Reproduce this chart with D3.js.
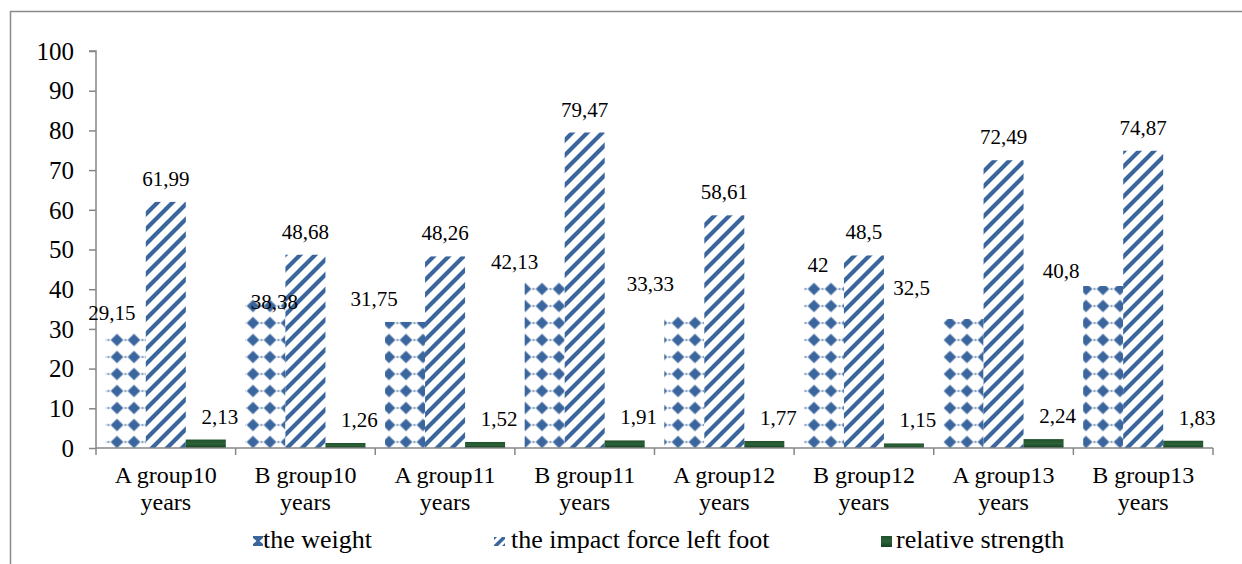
<!DOCTYPE html>
<html>
<head>
<meta charset="utf-8">
<script src="https://cdn.jsdelivr.net/npm/d3@7"></script>
</head>
<body style="margin:0">
<svg id="fig" width="1242" height="564"></svg>
<script>
// Category labels (two lines each)
const groups = ["A group10", "B group10", "A group11", "B group11",
                "A group12", "B group12", "A group13", "B group13"];
const groupSub = ["years", "years", "years", "years", "years", "years", "years", "years"];

// Series values
const weight   = [29.15, 38.38, 31.75, 42.13, 33.33, 42, 32.5, 40.8];
const impact   = [61.99, 48.68, 48.26, 79.47, 58.61, 48.5, 72.49, 74.87];
const strength = [2.13, 1.26, 1.52, 1.91, 1.77, 1.15, 2.24, 1.83];

const seriesNames = ["the weight", "the impact force left foot", "relative strength"];
const yTicks = [0, 10, 20, 30, 40, 50, 60, 70, 80, 90, 100];

// Hand-placed label offsets for the weight series (px, relative to bar centre / top)
const weightLabelDx = [-14, 9, -31, -30, -34, -6, -52, -42];
const weightLabelDy = [-12, 13, -16, -12, -25, -9, -24, -8];

// serif text helper
const serif = (sel, size) => sel
  .attr("font-family", "Liberation Serif").attr("font-size", size)
  .style("font-family", "'Liberation Serif', 'Times New Roman', serif", "important")
  .style("font-size", size + "px", "important");

const svg = d3.select("#fig");
const defs = svg.append("defs");
const blue = "#3a659d";

// dotted-diamond fill for "the weight"
const pw = defs.append("pattern")
  .attr("id", "pat-weight").attr("patternUnits", "userSpaceOnUse")
  .attr("width", 17).attr("height", 17).attr("x", 6.5).attr("y", 8.5);
pw.append("rect").attr("width", 17).attr("height", 17).attr("fill", "#fff");
pw.append("path").attr("d", "M8.5,2.2 L14.8,8.5 L8.5,14.8 L2.2,8.5 Z").attr("fill", blue);
pw.append("path").attr("d", "M0,7.5 L1.5,8.5 L0,9.5 Z M17,7.5 L15.5,8.5 L17,9.5 Z").attr("fill", blue);

// wide upward-diagonal stripes for the impact force
const pi = defs.append("pattern")
  .attr("id", "pat-impact").attr("patternUnits", "userSpaceOnUse")
  .attr("width", 15).attr("height", 15);
pi.append("rect").attr("width", 15).attr("height", 15).attr("fill", "#fff");
pi.append("path")
  .attr("d", "M-4,19 L19,-4 M-4,4 L4,-4 M11,19 L19,11")
  .attr("stroke", blue).attr("stroke-width", 4.2).attr("fill", "none");

// dark green fill for relative strength
const gg = defs.append("linearGradient").attr("id", "grad-strength")
  .attr("x1", 0).attr("y1", 0).attr("x2", 0).attr("y2", 1);
gg.append("stop").attr("offset", "0%").attr("stop-color", "#21502c");
gg.append("stop").attr("offset", "50%").attr("stop-color", "#2b6238");
gg.append("stop").attr("offset", "100%").attr("stop-color", "#173f20");

const fills = ["url(#pat-weight)", "url(#pat-impact)", "url(#grad-strength)"];
const series = [weight, impact, strength];

// outer frame
svg.append("rect")
  .attr("x", 10.5).attr("y", 11.5).attr("width", 1260).attr("height", 600)
  .attr("fill", "none").attr("stroke", "#8a8a8a").attr("stroke-width", 1.5);

const plot = { left: 96, right: 1213, top: 51, bottom: 448 };

const x0 = d3.scaleBand().domain(d3.range(groups.length))
  .range([plot.left, plot.right]).paddingInner(0).paddingOuter(0);
const x1 = d3.scaleBand().domain(d3.range(3))
  .range([0, x0.bandwidth()]).paddingInner(0).paddingOuter(0.245);
const y = d3.scaleLinear().domain([0, 100]).range([plot.bottom, plot.top]);

// bars
series.forEach((vals, s) => {
  svg.append("g").selectAll("rect").data(vals).join("rect")
    .attr("x", (d, i) => x0(i) + x1(s))
    .attr("y", d => y(d))
    .attr("width", x1.bandwidth())
    .attr("height", d => y(0) - y(d))
    .attr("fill", fills[s]);
});

// y axis: tick marks and line from the axis generator, labels as plain text
const yAxis = d3.axisLeft(y).tickValues(yTicks).tickSize(7).tickFormat("");
const gy = svg.append("g").attr("transform", `translate(${plot.left},0)`).call(yAxis);
gy.select(".domain").attr("stroke", "#868686").attr("stroke-width", 1.5)
  .attr("d", `M-7,${y(100)}H0V${y(0)}`);
gy.selectAll(".tick line").attr("stroke", "#868686").attr("stroke-width", 1.5);
serif(svg.append("g").selectAll("text").data(yTicks).join("text"), 25)
  .attr("x", 74).attr("y", d => y(d)).attr("dy", "0.35em")
  .attr("text-anchor", "end")
  .text(d => d);

// x axis
const gx = svg.append("g").attr("transform", `translate(0,${plot.bottom})`);
gx.append("path").attr("d", `M${plot.left},0H${plot.right}`)
  .attr("stroke", "#868686").attr("stroke-width", 1.5).attr("fill", "none");
gx.selectAll("line.tk").data(d3.range(groups.length + 1)).join("line")
  .attr("class", "tk")
  .attr("x1", i => i < groups.length ? x0(i) : plot.right)
  .attr("x2", i => i < groups.length ? x0(i) : plot.right)
  .attr("y1", 0).attr("y2", 7)
  .attr("stroke", "#868686").attr("stroke-width", 1.5);

serif(svg.append("g").selectAll("text").data(groups).join("text"), 24)
  .attr("x", (d, i) => x0(i) + x0.bandwidth() / 2).attr("y", plot.bottom + 35)
  .attr("text-anchor", "middle")
  .text(d => d);
serif(svg.append("g").selectAll("text").data(groupSub).join("text"), 24)
  .attr("x", (d, i) => x0(i) + x0.bandwidth() / 2).attr("y", plot.bottom + 62)
  .attr("text-anchor", "middle")
  .text(d => d);

// value labels
const fmt = v => String(v).replace(".", ",");
const labelDx = [weightLabelDx, impact.map(() => 0), strength.map(() => 14)];
const labelDy = [weightLabelDy, impact.map(() => -16), strength.map(() => -16)];
series.forEach((vals, s) => {
  serif(svg.append("g").selectAll("text").data(vals).join("text"), 21)
    .attr("x", (d, i) => x0(i) + x1(s) + x1.bandwidth() / 2 + labelDx[s][i])
    .attr("y", (d, i) => y(d) + labelDy[s][i])
    .attr("text-anchor", "middle")
    .text(fmt);
});

// legend
const legendX = [263, 511, 896];
const lg = svg.append("g");
// weight swatch: hourglass fragment of the diamond fill
lg.append("path")
  .attr("d", "M253,536 H263 V538 L259.5,541 L263,544 V546 H253 V544 L256.5,541 L253,538 Z")
  .attr("fill", blue);
// impact swatch: stripe fragments
lg.append("path").attr("d", "M494,545 L502,537 L505,537 L505,539 L498,546 L494,546 Z").attr("fill", blue);
lg.append("path").attr("d", "M494,537 L497,537 L494,540 Z M505,543 L505,546 L502,546 Z").attr("fill", blue);
// strength swatch
lg.append("rect").attr("x", 881).attr("y", 536).attr("width", 11).attr("height", 11)
  .attr("fill", "url(#grad-strength)");
serif(lg.append("g").selectAll("text").data(seriesNames).join("text"), 26)
  .attr("x", (d, i) => legendX[i])
  .attr("y", 548)
  .text(d => d);
</script>
</body>
</html>
